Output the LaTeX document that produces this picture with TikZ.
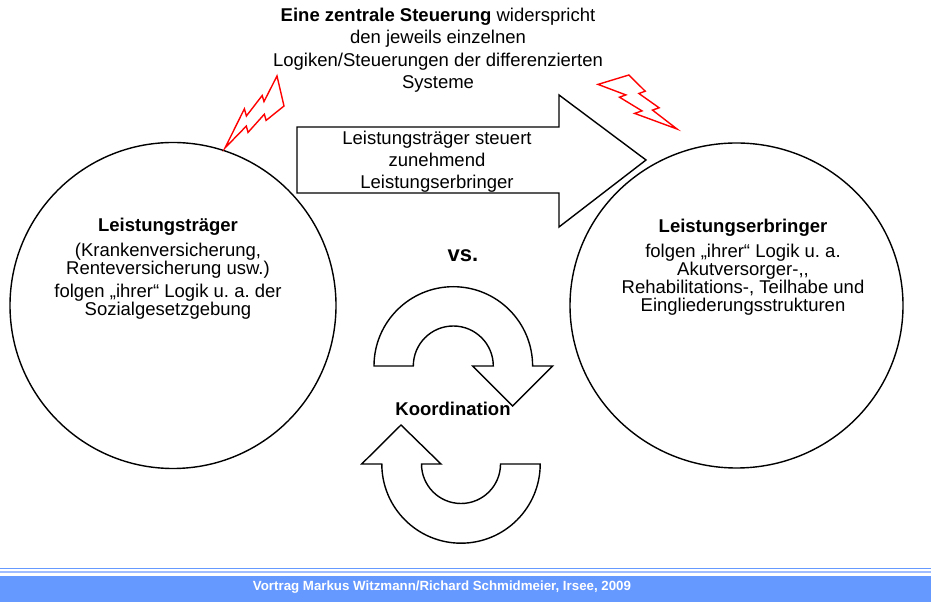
\documentclass[tikz,border=0pt]{standalone}
\usepackage{fontspec}
\setmainfont{Liberation Sans}
\usetikzlibrary{shapes.geometric}
\definecolor{footblue}{RGB}{102,153,255}
\definecolor{footlight}{RGB}{160,190,255}
\frenchspacing
\begin{document}
\begin{tikzpicture}[x=1pt,y=1pt,
  outl/.style={draw=black,line width=1.4pt,line join=miter},
  bolt/.style={draw=red,line width=1.4pt,line join=miter},
  txt/.style={align=center,font=\fontsize{18.5}{18}\selectfont,inner sep=0pt},
  ring/.style={draw=black,line width=1.4pt,inner sep=0pt},
]
\useasboundingbox (0,0) rectangle (931,602);

% circles
\node[ring,circle,minimum size=326pt] (lt) at (173,296.5) {};
\node[ring,ellipse,minimum width=333pt,minimum height=325pt] (le) at (736.5,296.5) {};

% big arrow
\draw[outl] (297,475) -- (559,475) -- (559,507) -- (646,442) -- (559,375) -- (559,409) -- (297,409) -- cycle;
\node[txt,font=\fontsize{18.5}{22}\selectfont] (steu) at (437,440) {Leistungsträger steuert\\zunehmend\\Leistungserbringer};

% top text
\node[txt,font=\fontsize{18.5}{22.5}\selectfont] (top) at (438,552) {\textbf{Eine zentrale Steuerung} widerspricht\\den jeweils einzelnen\\Logiken/Steuerungen der differenzierten\\Systeme};

% lightning bolts
\draw[bolt] (225,454) -- (244.4,493.2) -- (246.4,486) -- (262.2,506.5) -- (264,500.4) -- (277,526) -- (284,496) -- (266.1,481.6) -- (264.35,487.8) -- (248.05,469.6) -- (246.3,475.9) -- cycle;
\draw[bolt] (628.9,527) -- (645.2,510.8) -- (638.9,508.5) -- (659.1,494.2) -- (652.5,491.9) -- (677,473) -- (634.6,488.6) -- (642.0,491.1) -- (619.5,504.8) -- (625.8,507.1) -- (598,517.6) -- cycle;

% circle texts
\node[txt] (lttxt) at (168,333) {\textbf{Leistungsträger}\\[7pt](Krankenversicherung,\\Renteversicherung usw.)\\[5pt]folgen „ihrer“ Logik u. a. der\\Sozialgesetzgebung};
\node[txt] (letxt) at (743,335) {\textbf{Leistungserbringer}\\[7pt]folgen „ihrer“ Logik u. a.\\Akutversorger-,{},\\Rehabilitations-, Teilhabe und\\Eingliederungsstrukturen};

% vs.
\node[inner sep=0pt,font=\fontsize{22}{22}\selectfont\bfseries] (vs) at (463,346) {vs.};

% circular arrows
\draw[outl] (374,236) arc[start angle=180,end angle=0,radius=79.3pt] -- (552.7,236) -- (512.7,196) -- (472.7,236) -- (493.3,236) arc[start angle=0,end angle=180,radius=40pt] -- cycle;
\draw[outl] (540.2,138) arc[start angle=0,end angle=-180,radius=79.2pt] -- (361.7,138) -- (401,177) -- (441,138) -- (421.5,138) arc[start angle=180,end angle=360,radius=39.5pt] -- cycle;
\node[inner sep=0pt,font=\fontsize{18.5}{18}\selectfont\bfseries] (koord) at (453,193) {Koordination};

% footer
\fill[footblue] (0,32.5) rectangle (931,34.3);
\fill[footlight] (0,29.3) rectangle (931,31);
\fill[footblue] (0,0) rectangle (931,26.3);
\node[inner sep=0pt,text=white,font=\fontsize{13.3}{13.3}\selectfont\bfseries] (foot) at (442,15) {Vortrag Markus Witzmann/Richard Schmidmeier, Irsee, 2009};
\end{tikzpicture}
\end{document}
